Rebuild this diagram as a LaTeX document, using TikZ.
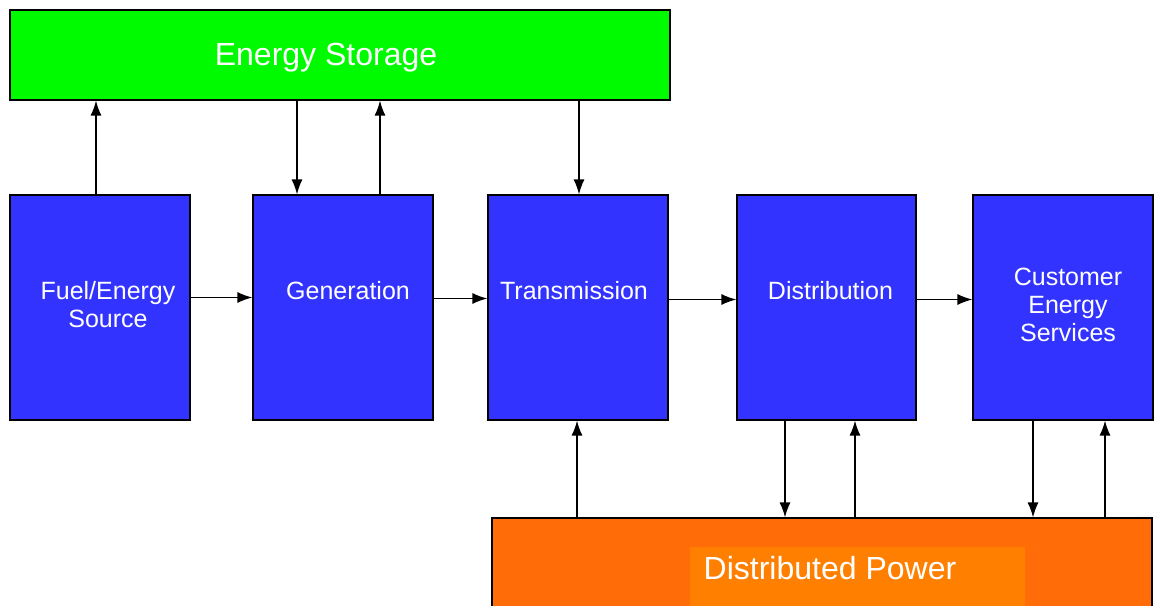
\documentclass[tikz,border=0pt]{standalone}
\usepackage{fontspec}
\setmainfont{Liberation Sans}
\usetikzlibrary{arrows.meta}
\definecolor{esgreen}{RGB}{0,250,0}
\definecolor{boxblue}{RGB}{51,51,255}
\definecolor{dporange}{RGB}{255,108,8}
\definecolor{dpinner}{RGB}{255,128,0}
\tikzset{
  box/.style={draw=black, line width=1.2pt, rectangle, inner sep=0pt},
  bluebox/.style={box, fill=boxblue, minimum width=180pt, minimum height=225pt},
  bigtext/.style={text=white, font=\fontsize{32}{36}\selectfont, inner sep=0pt},
  boxtext/.style={text=white, font=\fontsize{25}{28}\selectfont, align=center, inner sep=0pt},
  arr/.style={draw=black, line width=1.3pt, -{Latex[length=15pt,width=11pt]}}
}
\begin{document}
\begin{tikzpicture}[x=1pt,y=-1pt]
\clip (0,0) rectangle (1155,605);
\fill[white] (0,0) rectangle (1155,605);
% boxes
\node[box, fill=esgreen, minimum width=660pt, minimum height=90pt] (es) at (340,55) {};
\node[bluebox] (fuel) at (100,307.5) {};
\node[bluebox] (gen) at (343,307.5) {};
\node[bluebox] (trans) at (578,307.5) {};
\node[bluebox, minimum width=179pt] (dist) at (826.5,307.5) {};
\node[bluebox] (cust) at (1063,307.5) {};
\node[box, fill=dporange, minimum width=660pt, minimum height=102pt] (dp) at (822,569) {};
\fill[dpinner] (690,547) rectangle (1025,608);
% texts
\node[bigtext] (est) at ([xshift=-14pt,yshift=-3pt]es.center) {Energy Storage};
\node[bigtext] (dpt) at (830,568) {Distributed Power};
\node[boxtext] (fuelt) at ([xshift=8pt,yshift=3pt]fuel.center) {Fuel/Energy\\Source};
\node[boxtext] (gent) at ([xshift=5pt,yshift=17pt]gen.center) {Generation};
\node[boxtext] (transt) at ([xshift=-4pt,yshift=17pt]trans.center) {Transmission};
\node[boxtext] (distt) at ([xshift=4pt,yshift=17pt]dist.center) {Distribution};
\node[boxtext] (custt) at ([xshift=5pt,yshift=3pt]cust.center) {Customer\\Energy\\Services};
% attachment points
\coordinate (f1) at ([xshift=-4pt]fuel.north);
\coordinate (g1) at ([xshift=-46pt]gen.north);
\coordinate (g2) at ([xshift=37pt]gen.north);
\coordinate (t1) at ([xshift=1pt]trans.north);
\coordinate (t2) at ([xshift=-1pt]trans.south);
\coordinate (d1) at ([xshift=-41.5pt]dist.south);
\coordinate (d2) at ([xshift=28.5pt]dist.south);
\coordinate (c1) at ([xshift=-30pt]cust.south);
\coordinate (c2) at ([xshift=42pt]cust.south);
% vertical connectors
\draw[arr] (f1) -- (f1 |- es.south);
\draw[arr] (g1 |- es.south) -- (g1);
\draw[arr] (g2) -- (g2 |- es.south);
\draw[arr] (t1 |- es.south) -- (t1);
\draw[arr] (t2 |- dp.north) -- (t2);
\draw[arr] (d1) -- (d1 |- dp.north);
\draw[arr] (d2 |- dp.north) -- (d2);
\draw[arr] (c1) -- (c1 |- dp.north);
\draw[arr] (c2 |- dp.north) -- (c2);
% horizontal connectors
\draw[arr] ([yshift=10pt]fuel.east) -- ([yshift=10pt]gen.west);
\draw[arr] ([yshift=9pt]gen.east) -- ([yshift=9pt]trans.west);
\draw[arr] ([yshift=8pt]trans.east) -- ([yshift=8pt]dist.west);
\draw[arr] ([yshift=8pt]dist.east) -- ([yshift=8pt]cust.west);
\end{tikzpicture}
\end{document}
